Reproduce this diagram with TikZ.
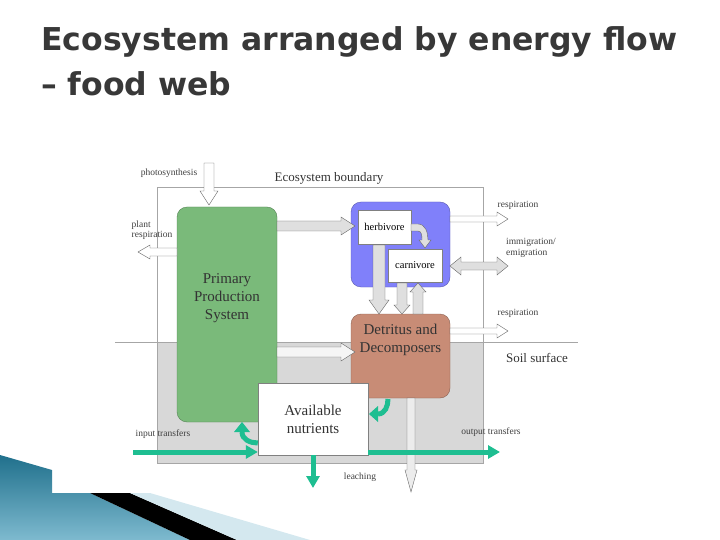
\documentclass[tikz,border=0pt]{standalone}
\usepackage{fontspec}
\setmainfont{Liberation Serif}
\newfontfamily\titlefont{DejaVu Sans}
\usetikzlibrary{arrows.meta}
\definecolor{gbox}{RGB}{122,186,122}
\definecolor{bbox}{RGB}{128,128,250}
\definecolor{dbox}{RGB}{200,140,118}
\definecolor{soil}{RGB}{216,216,216}
\definecolor{teal}{RGB}{30,190,145}
\definecolor{deco}{RGB}{40,140,175}
% \fatarr{x}{y}{angle}{length}{body half}{head half}{head len}{fill}
\newcommand\fatarr[8]{\begin{scope}[shift={(#1,#2)},rotate=#3]
\draw[gray!80!black,fill=#8,line join=miter] (0,-#5)--({#4-#7},-#5)--({#4-#7},-#6)--(#4,0)--({#4-#7},#6)--({#4-#7},#5)--(0,#5)--cycle;
\end{scope}}
\newcommand\dblarr[6]{\begin{scope}[shift={(#1,#2)}]
\draw[gray!80!black,fill=gray!25] (0,0)--(#6,-#5)--(#6,-#4)--({#3-#6},-#4)--({#3-#6},-#5)--(#3,0)--({#3-#6},#5)--({#3-#6},#4)--(#6,#4)--(#6,#5)--cycle;
\end{scope}}
\tikzset{
 lbl/.style={font=\fontsize{9.5}{10.5}\selectfont,text=black!75,align=left},
 gar/.style={teal,line width=5pt,-{Triangle[length=12pt,width=13pt]}},
 box/.style={draw=#1!70!black,fill=#1,rounded corners=10pt}
}
\begin{document}
\begin{tikzpicture}[x=1pt,y=-1pt]
\useasboundingbox (0,0) rectangle (720,540);
% bottom decoration
\shade[left color=deco!80!black,right color=deco!60!white,shading angle=0] (0,455)--(52,470)--(52,493)--(90,493)--(190,540)--(0,540)--cycle;
\fill[black] (90,493)--(130,493)--(237,540)--(190,540)--cycle;
\fill[deco!20] (130,493)--(150,493)--(310,540)--(237,540)--cycle;
% title
\node[anchor=north west,align=left,font=\titlefont\bfseries\fontsize{31.5}{45}\selectfont,text=black!78,inner sep=0pt] (title) at (41,26) {Ecosystem arranged by energy flow\\– food web};
% soil area and boundary
\fill[soil] (157,342) rectangle (483,463);
\draw[gray!70] (157,187) rectangle (483,463);
\draw[gray!70] (115,342) -- (578,342);
% boxes
\node[box=gbox,minimum width=100pt,minimum height=215pt,font=\fontsize{15}{18}\selectfont,align=center,text=black!80,text depth=36pt] (pp) at (227,314.5) {Primary\\Production\\System};
\node[box=bbox,minimum width=99pt,minimum height=85pt] (blue) at (400.5,244.5) {};
\node[draw=gray,fill=white,minimum width=53pt,minimum height=34pt,inner sep=0pt,font=\fontsize{10.5}{12}\selectfont] (herb) at (384.5,227) {herbivore};
\node[draw=gray,fill=white,minimum width=54pt,minimum height=33pt,inner sep=0pt,font=\fontsize{10.5}{12}\selectfont] (carn) at (415,265.5) {carnivore};
\node[box=dbox,minimum width=99pt,minimum height=84pt,font=\fontsize{15}{18}\selectfont,align=center,text depth=36pt,text=black!80] (det) at (400.5,356) {Detritus and\\Decomposers};
\node[draw=gray,fill=white,minimum width=110pt,minimum height=72pt,font=\fontsize{15}{18}\selectfont,align=center,text=black!80] (nut) at (313,419) {Available\\nutrients};
% labels
\node[font=\fontsize{13}{15}\selectfont,text=black!80] (eb) at (329,178) {Ecosystem boundary};
\node[lbl] (ph) at (169,173) {photosynthesis};
\node[lbl] (pr) at (152,230) {plant\\respiration};
\node[lbl] (r1) at (518,205) {respiration};
\node[lbl] (im) at (531,248) {immigration/\\emigration};
\node[lbl] (r2) at (518,313) {respiration};
\node[font=\fontsize{13}{15}\selectfont,text=black!80] (ss) at (537,358) {Soil surface};
\node[lbl] (it) at (163,434) {input transfers};
\node[lbl] (ot) at (491,432) {output transfers};
\node[lbl] (le) at (360,477) {leaching};
% fat hollow arrows
\fatarr{209}{163}{-90}{42}{5}{9}{14}{white}
\fatarr{177}{252}{180}{39}{4}{7}{12}{white}
\fatarr{277}{226}{0}{78}{5}{9}{14}{gray!25}
\fatarr{277}{352}{0}{78}{5}{9}{14}{gray!8}
\fatarr{379}{245}{-90}{69}{6}{10}{14}{gray!25}
\fatarr{402}{283}{-90}{31}{5}{8}{9}{gray!25}
\fatarr{418}{314}{90}{31}{5}{8}{9}{gray!25}
\dblarr{450}{266}{58}{4}{9}{11}
\fatarr{450}{219}{0}{58}{3}{7}{11}{white}
\fatarr{450}{331}{0}{58}{3}{7}{11}{white}
\fatarr{411}{398}{-90}{94}{4}{6}{22}{gray!15}
% curved herbivore -> carnivore
\draw[gray!80!black,fill=gray!25] (411,224)--(418,224) to[out=0,in=90] (428,240) -- (431,240) -- (425,248) -- (419,240) -- (422,240) to[out=90,in=0] (418,231) -- (411,231) -- cycle;
% green arrows
\coordinate (inL) at (133,452);
\coordinate (outR) at (500,452);
\coordinate (leach) at (313,488);
\draw[gar] (inL) -- (nut.west |- inL);
\draw[gar] (nut.east |- outR) -- (outR);
\draw[gar] (313,455) -- (leach);
\draw[teal,line width=5pt] (nut.west |- 0,443) to[out=180,in=-90] (242,432);
\fill[teal] (234,432)--(250,432)--(242,422)--cycle;
\draw[teal,line width=5pt] (388,399) to[out=-90,in=0] (378,414);
\fill[teal] (378,406)--(378,422)--(369,414)--cycle;
\end{tikzpicture}
\end{document}
